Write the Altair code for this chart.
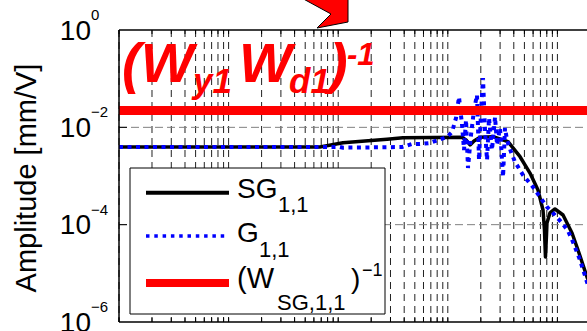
import altair as alt
import pandas as pd

# Frequency response of axis 1: measured plant G, sensor-gain compensated SG,
# and the inverse weighting bound (W_SG,1,1)^-1.  Frequency [Hz], amplitude [mm/V].
sg_freq = [0.1, 6.82, 11.06, 27.9, 39.0, 134.9, 146.6, 159.6, 173.4, 196.7,
           258.4, 354.0, 456.0, 562.0, 665.0, 739.0, 762.0, 778.0, 795.0, 803.0,
           855.0, 950.0, 1125.0, 1359.0, 1541.0, 1862.0, 2449.0]
sg_amp = [3.94e-3, 3.94e-3, 4.83e-3, 5.68e-3, 6.12e-3, 6.24e-3, 5.50e-3, 4.34e-3, 5.24e-3, 6.24e-3,
          6.42e-3, 5.07e-3, 2.49e-3, 1.15e-3, 5.16e-4, 2.00e-4, 7.78e-5, 2.17e-5, 6.14e-5, 1.08e-4,
          1.74e-4, 2.10e-4, 1.58e-4, 6.75e-5, 3.02e-5, 8.41e-6, 1.77e-6]

g_freq = [0.1, 10.38, 11.06, 38.2, 47.1, 55.7, 68.8, 81.4, 98.4, 109.2,
          118.8, 126.5, 134.9, 140.6, 146.6, 152.8, 162.8, 173.4, 184.6, 192.6,
          200.9, 209.5, 218.4, 228.0, 237.7, 253.0, 269.8, 281.2, 299.5, 319.2,
          332.7, 346.7, 377.6, 410.4, 485.3, 598.4, 693.4, 803.0, 950.0, 1102.0,
          1250.0, 1387.0, 1607.0, 1862.0, 2449.0]
g_amp = [3.94e-3, 3.94e-3, 3.82e-3, 3.94e-3, 4.55e-3, 4.55e-3, 4.77e-3, 5.50e-3, 6.34e-3, 8.02e-3,
         1.556e-2, 4.20e-2, 1.117e-2, 3.42e-3, 1.416e-2, 1.46e-3, 6.97e-3, 2.27e-2, 4.62e-2, 2.13e-3,
         2.07e-2, 1.032e-1, 8.82e-3, 2.13e-3, 1.556e-2, 3.42e-3, 1.630e-2, 4.34e-3, 9.69e-3, 9.55e-4,
         9.69e-3, 5.50e-3, 3.11e-3, 1.94e-3, 1.05e-3, 5.94e-4, 3.71e-4, 2.31e-4, 1.58e-4, 1.08e-4,
         7.41e-5, 4.41e-5, 1.88e-5, 6.64e-6, 1.21e-6]

w_freq = [0.1, 2449.0]
w_amp = [0.0222, 0.0222]

y_tick_values = [1.0, 1e-2, 1e-4, 1e-6]
y_tick_exponents = ["0", "\u22122", "\u22124", "\u22126"]
y_grid_values = [1e-2, 1e-4]
y_title = "Amplitude [mm/V]"

FONT = "Liberation Sans"
W, H = 468, 292
F_MIN, F_MAX = 0.1, 1862.0

xscale = alt.Scale(type="log", domain=[F_MIN, F_MAX], nice=False)
yscale = alt.Scale(type="log", domain=[1e-6, 1.0], nice=False)

# log grid positions 1..9 x 10^n
x_grid = [k * 10.0 ** e for e in range(-1, 4) for k in range(1, 10) if k * 10.0 ** e <= F_MAX]

df_sg = pd.DataFrame({"f": sg_freq, "a": sg_amp, "i": range(len(sg_freq))})
df_g = pd.DataFrame({"f": g_freq, "a": g_amp, "i": range(len(g_freq))})
df_w = pd.DataFrame({"f": w_freq, "a": w_amp, "i": range(len(w_freq))})
df_yt = pd.DataFrame({"v": y_tick_values, "e": y_tick_exponents})
df_yg = pd.DataFrame({"v": y_grid_values})
df_xg = pd.DataFrame({"f": x_grid})
one = pd.DataFrame({"k": [0]})

X = lambda: alt.X("f:Q", scale=xscale, axis=None)
Y = lambda field: alt.Y(field, scale=yscale, axis=None)

# dashed grid
x_gridlines = alt.Chart(df_xg).mark_rule(color="#222222", strokeWidth=1, strokeDash=[7, 5]).encode(
    x=X(), y=alt.value(0), y2=alt.value(H))
y_gridlines = alt.Chart(df_yg).mark_rule(color="#808080", strokeWidth=1, strokeDash=[8, 4]).encode(
    y=Y("v:Q"), x=alt.value(0), x2=alt.value(W))

sg_line = alt.Chart(df_sg).mark_line(color="black", strokeWidth=3.5, strokeJoin="round", clip=True).encode(
    x=X(), y=Y("a:Q"), order=alt.Order("i:Q"))
g_line = alt.Chart(df_g).mark_line(color="#0000ff", strokeWidth=4, strokeDash=[4, 4.5], strokeCap="butt",
                                   clip=True).encode(
    x=X(), y=Y("a:Q"), order=alt.Order("i:Q"))
w_line = alt.Chart(df_w).mark_line(color="#ff0000", strokeWidth=9, clip=True).encode(
    x=X(), y=Y("a:Q"), order=alt.Order("i:Q"))

# frame and inward ticks
frame = [
    alt.Chart(one).mark_rule(color="black", strokeWidth=1.5).encode(
        x=alt.value(0), x2=alt.value(W), y=alt.value(0)),
    alt.Chart(one).mark_rule(color="black", strokeWidth=1.5).encode(
        x=alt.value(0), x2=alt.value(W), y=alt.value(H)),
    alt.Chart(one).mark_rule(color="black", strokeWidth=1.5).encode(
        x=alt.value(0), y=alt.value(0), y2=alt.value(H)),
]
ticks_bottom = alt.Chart(df_xg).mark_rule(color="black", strokeWidth=1).encode(
    x=X(), y=alt.value(H - 5), y2=alt.value(H))
ticks_top = alt.Chart(df_xg).mark_rule(color="black", strokeWidth=1).encode(
    x=X(), y=alt.value(0), y2=alt.value(4))
ticks_left = alt.Chart(df_yg).mark_rule(color="black", strokeWidth=1).encode(
    y=Y("v:Q"), x=alt.value(0), x2=alt.value(8))

# y tick labels as 10^n
ylab_base = alt.Chart(df_yt).mark_text(text="10", font=FONT, fontSize=28, align="right",
                                       baseline="alphabetic", dy=9.5, color="black").encode(
    y=Y("v:Q"), x=alt.value(-28))
ylab_exp = alt.Chart(df_yt).mark_text(font=FONT, fontSize=15, align="left",
                                      baseline="alphabetic", dy=-10, color="black").encode(
    y=Y("v:Q"), x=alt.value(-28), text="e:N")
ytitle = alt.Chart(one).mark_text(text=y_title, font=FONT, fontSize=29, angle=270, align="center",
                                  baseline="alphabetic", color="black").encode(
    x=alt.value(-83), y=alt.value(148))


def txt(s, x, y, size, color="black", weight="normal", style="normal"):
    return alt.Chart(one).mark_text(text=s, font=FONT, fontSize=size, fontWeight=weight,
                                    fontStyle=style, color=color, align="left",
                                    baseline="alphabetic").encode(x=alt.value(x), y=alt.value(y))


def seg(y, color, width, dash=None):
    kw = dict(color=color, strokeWidth=width, strokeCap="butt")
    if dash:
        kw["strokeDash"] = dash
    return alt.Chart(one).mark_rule(**kw).encode(x=alt.value(27), x2=alt.value(110), y=alt.value(y))


legend_box = alt.Chart(one).mark_rect(fill="white", stroke="black", strokeWidth=1).encode(
    x=alt.value(11), x2=alt.value(266), y=alt.value(138), y2=alt.value(284))

legend = [
    legend_box,
    seg(162.7, "black", 4),
    seg(206, "#0000ff", 3.5, [3.5, 4.8]),
    seg(253, "#ff0000", 8),
    txt("SG", 118, 168, 28), txt("1,1", 159, 182, 22),
    txt("G", 118, 212, 28), txt("1,1", 140, 227, 22),
    txt("(W", 118, 258, 29), txt("SG,1,1", 158, 280, 22), txt(")", 232, 258, 28),
    txt("\u22121", 243, 246, 18),
]

# weighting label
red = "#ff0000"
big = [
    txt("(W", 3, 52, 56, red, "bold", "italic"),
    txt("y1", 74, 63, 35, red, "bold", "italic"),
    txt("W", 120, 52, 56, red, "bold", "italic"),
    txt("d1", 170, 63, 35, red, "bold", "italic"),
    txt(")", 210, 52, 56, red, "bold", "italic"),
    txt("-1", 228, 35, 31, red, "bold", "italic"),
]

arrow = alt.Chart(one).mark_point(
    shape="M -25 -17 L 8 1 L -6 15 L 25 9 L 25 -17 Z", size=4, filled=True,
    fill=red, stroke="black", strokeWidth=1, opacity=1, fillOpacity=1,
).encode(x=alt.value(204), y=alt.value(-17))

chart = alt.layer(
    x_gridlines, y_gridlines,
    sg_line, g_line, w_line,
    *legend, ylab_base, ylab_exp, ytitle, *big,
    *frame, ticks_bottom, ticks_top, ticks_left, arrow,
).properties(
    width=W, height=H,
    padding={"left": 119, "top": 30, "right": 0, "bottom": 9},
    autosize=alt.AutoSizeParams(type="none"),
).configure_view(strokeWidth=0)

chart.save("out.html", embed_options={"renderer": "svg", "actions": False})
